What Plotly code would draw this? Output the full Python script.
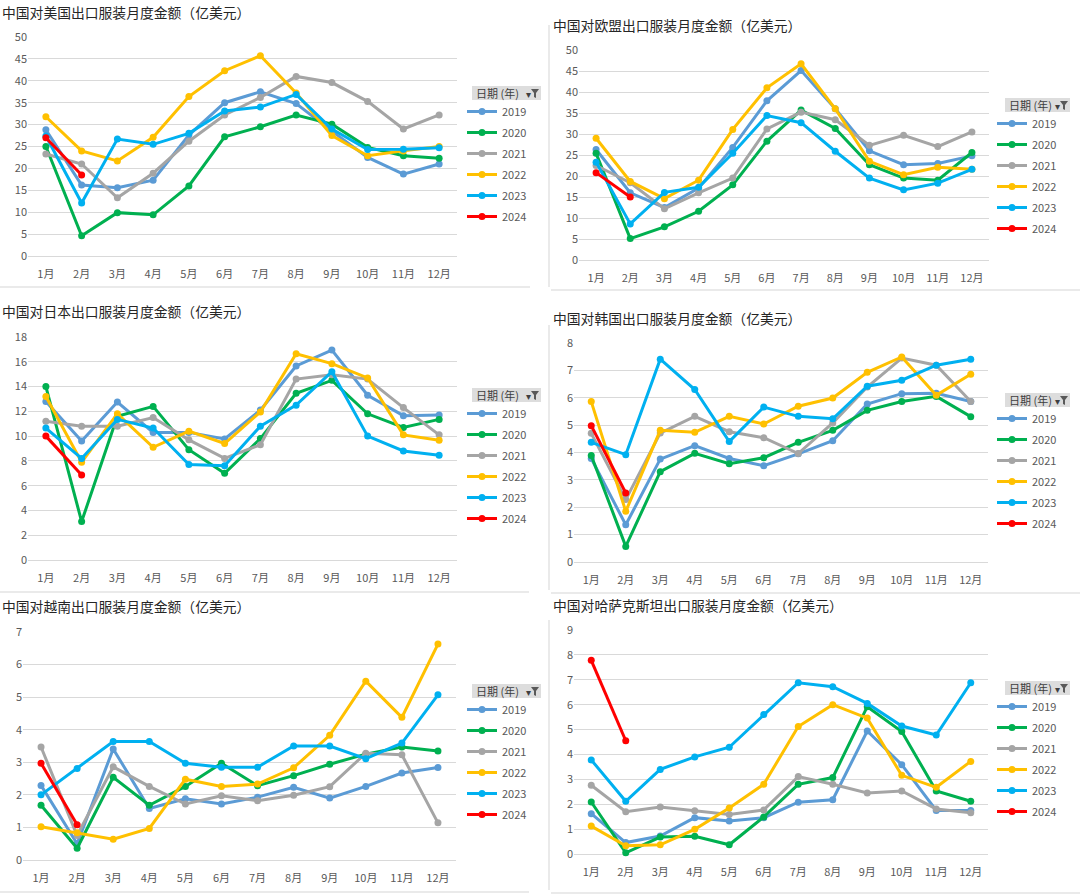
import plotly.graph_objects as go

MONTHS = ["1月", "2月", "3月", "4月", "5月", "6月", "7月", "8月", "9月", "10月", "11月", "12月"]
YEARS = ["2019", "2020", "2021", "2022", "2023", "2024"]
COLORS = ["#5B9BD5", "#00B050", "#A5A5A5", "#FFC000", "#00B0F0", "#FF0000"]

TITLES = [
    "中国对美国出口服装月度金额（亿美元）",
    "中国对欧盟出口服装月度金额（亿美元）",
    "中国对日本出口服装月度金额（亿美元）",
    "中国对韩国出口服装月度金额（亿美元）",
    "中国对越南出口服装月度金额（亿美元）",
    "中国对哈萨克斯坦出口服装月度金额（亿美元）",
]

US = {
    "2019": [28.8, 16.2, 15.6, 17.3, 27.6, 35.0, 37.5, 34.8, 28.5, 22.5, 18.7, 21.0],
    "2020": [25.0, 4.6, 9.9, 9.4, 16.0, 27.2, 29.5, 32.2, 30.1, 24.8, 22.9, 22.3],
    "2021": [23.3, 21.0, 13.3, 18.9, 26.2, 32.2, 36.2, 41.0, 39.6, 35.3, 29.0, 32.2],
    "2022": [31.8, 24.0, 21.7, 27.1, 36.4, 42.3, 45.7, 37.2, 27.5, 22.9, 24.0, 25.0],
    "2023": [27.4, 12.1, 26.7, 25.5, 28.0, 33.1, 34.0, 36.9, 29.0, 24.3, 24.4, 24.7],
    "2024": [27.0, 18.5],
}
EU = {
    "2019": [26.3, 16.0, 12.5, 17.1, 26.8, 37.9, 45.1, 36.0, 26.0, 22.7, 23.0, 24.8],
    "2020": [25.4, 5.1, 7.9, 11.6, 17.9, 28.3, 35.7, 31.3, 22.7, 19.5, 19.0, 25.6],
    "2021": [22.5, 18.4, 12.2, 16.0, 19.5, 31.2, 35.2, 33.4, 27.3, 29.7, 27.0, 30.5],
    "2022": [29.0, 18.7, 14.6, 19.0, 31.1, 41.0, 46.7, 36.0, 23.5, 20.3, 22.1, 21.6],
    "2023": [23.3, 8.6, 16.1, 17.3, 25.4, 34.4, 32.7, 25.9, 19.5, 16.7, 18.3, 21.6],
    "2024": [20.8, 15.0],
}
JP = {
    "2019": [12.8, 9.6, 12.75, 10.3, 10.3, 9.77, 12.1, 15.66, 16.95, 13.3, 11.65, 11.7],
    "2020": [14.0, 3.1, 11.6, 12.4, 8.9, 7.0, 9.8, 13.45, 14.5, 11.8, 10.7, 11.35],
    "2021": [11.2, 10.8, 10.8, 11.5, 9.7, 8.2, 9.3, 14.6, 14.95, 14.6, 12.3, 10.1],
    "2022": [13.2, 7.9, 11.8, 9.1, 10.4, 9.4, 11.95, 16.65, 15.85, 14.7, 10.1, 9.66],
    "2023": [10.65, 8.2, 11.35, 10.65, 7.7, 7.6, 10.8, 12.5, 15.2, 10.0, 8.8, 8.45],
    "2024": [10.0, 6.86],
}
KR = {
    "2019": [3.78, 1.36, 3.76, 4.25, 3.78, 3.52, 3.95, 4.43, 5.77, 6.15, 6.16, 5.86],
    "2020": [3.89, 0.57, 3.3, 3.97, 3.59, 3.81, 4.37, 4.81, 5.54, 5.86, 6.05, 5.31],
    "2021": [4.7, 2.28, 4.71, 5.32, 4.76, 4.54, 3.96, 5.08, 6.39, 7.45, 7.19, 5.86],
    "2022": [5.86, 1.85, 4.81, 4.74, 5.32, 5.04, 5.69, 5.99, 6.93, 7.49, 6.09, 6.86],
    "2023": [4.37, 3.92, 7.41, 6.3, 4.4, 5.66, 5.32, 5.23, 6.42, 6.64, 7.19, 7.41],
    "2024": [4.98, 2.52],
}
VN = {
    "2019": [2.29, 0.5, 3.41, 1.58, 1.88, 1.72, 1.93, 2.23, 1.9, 2.26, 2.67, 2.84],
    "2020": [1.68, 0.36, 2.54, 1.68, 2.26, 2.97, 2.28, 2.59, 2.94, 3.25, 3.47, 3.35],
    "2021": [3.47, 0.75, 2.86, 2.26, 1.72, 1.97, 1.82, 1.99, 2.25, 3.28, 3.23, 1.14],
    "2022": [1.02, 0.84, 0.64, 0.97, 2.48, 2.26, 2.33, 2.83, 3.83, 5.49, 4.38, 6.63],
    "2023": [2.0, 2.81, 3.64, 3.64, 2.97, 2.85, 2.85, 3.5, 3.5, 3.11, 3.59, 5.07],
    "2024": [2.97, 1.08],
}
KZ = {
    "2019": [1.62, 0.46, 0.72, 1.46, 1.33, 1.46, 2.08, 2.18, 4.94, 3.59, 1.75, 1.75],
    "2020": [2.09, 0.05, 0.68, 0.71, 0.37, 1.49, 2.8, 3.07, 5.92, 4.92, 2.53, 2.12],
    "2021": [2.76, 1.7, 1.89, 1.74, 1.59, 1.77, 3.11, 2.8, 2.45, 2.53, 1.81, 1.66],
    "2022": [1.12, 0.33, 0.37, 0.99, 1.85, 2.8, 5.12, 6.0, 5.46, 3.16, 2.68, 3.72],
    "2023": [3.78, 2.12, 3.4, 3.9, 4.29, 5.6, 6.88, 6.72, 6.05, 5.14, 4.78, 6.88],
    "2024": [7.78, 4.55],
}
DATASETS = [US, EU, JP, KR, VN, KZ]
Y_MAX = [50, 50, 18, 8, 7, 9]
Y_DTICK = [5, 5, 2, 1, 1, 1]

W, H = 1080, 894


def fx(p):
    return p / W


def fy(p):
    return 1 - p / H


# layout geometry in pixels: (x0, x1, ytop, ybottom)
PLOTS = [
    (28, 457, 37, 256),
    (579, 989, 50, 260),
    (28, 457, 337, 560),
    (574, 988, 343, 562),
    (23, 456, 632, 860),
    (574, 988, 630, 854),
]
TITLE_POS = [(0, 12), (551, 25), (0, 311), (551, 318), (0, 606), (551, 605)]
LEG_HEAD = [(472, 541, 86, 100), (1005, 1070, 98, 112), (472, 541, 388, 402),
            (1005, 1070, 393, 407), (472, 541, 684, 698), (1005, 1070, 681, 695)]
LEG_X = [462, 992, 462, 992, 462, 992]

FONT = "Noto Sans CJK SC"
fig = go.Figure()
layout = dict(
    width=W, height=H, margin=dict(l=0, r=0, t=0, b=0, autoexpand=False),
    paper_bgcolor="white", plot_bgcolor="white",
    font=dict(family=FONT, size=11, color="#595959"),
    showlegend=True,
)
annotations = []
shapes = []

for i, data in enumerate(DATASETS):
    n = i + 1
    sfx = "" if n == 1 else str(n)
    x0, x1, yt, yb = PLOTS[i]
    leg = "legend" + sfx
    for yr, col in zip(YEARS, COLORS):
        vals = data[yr]
        fig.add_trace(go.Scatter(
            x=MONTHS[:len(vals)], y=vals, name=yr, mode="lines+markers",
            line=dict(color=col, width=3), marker=dict(color=col, size=7),
            xaxis="x" + sfx, yaxis="y" + sfx, legend=leg,
            legendgroup=f"p{n}_{yr}", cliponaxis=False,
        ))
    layout["xaxis" + sfx] = dict(
        domain=[fx(x0), fx(x1)], anchor="y" + sfx, type="category",
        categoryorder="array", categoryarray=MONTHS, range=[-0.5, 11.5],
        showgrid=False, showline=False, zeroline=False, ticks="",
        tickfont=dict(size=11, color="#595959"), ticklabelstandoff=10,
    )
    layout["yaxis" + sfx] = dict(
        domain=[fy(yb), fy(yt)], anchor="x" + sfx, range=[0, Y_MAX[i]],
        dtick=Y_DTICK[i], showgrid=True, gridcolor="#D9D9D9", gridwidth=1,
        zeroline=True, zerolinecolor="#D9D9D9", zerolinewidth=1,
        showline=False, ticks="", tickfont=dict(size=11, color="#595959"),
    )
    hx0, hx1, hy0, hy1 = LEG_HEAD[i]
    layout[leg] = dict(
        x=fx(LEG_X[i]), y=fy(hy1 - 3), xanchor="left", yanchor="top",
        bgcolor="rgba(0,0,0,0)", borderwidth=0, tracegroupgap=2,
        font=dict(size=11, color="#595959", family=FONT), itemwidth=30,
    )
    tx, ty = TITLE_POS[i]
    annotations.append(dict(
        text=TITLES[i], x=fx(tx), y=fy(ty), xref="paper", yref="paper",
        xanchor="left", yanchor="middle", showarrow=False,
        font=dict(size=13.8, color="#262626", family=FONT),
    ))
    # legend header
    shapes.append(dict(type="rect", xref="paper", yref="paper",
                       x0=fx(hx0), x1=fx(hx1), y0=fy(hy1), y1=fy(hy0),
                       fillcolor="#DDDDDD", line=dict(width=0), layer="below"))
    annotations.append(dict(
        text="日期 (年)", x=fx(hx0 + 2), y=fy((hy0 + hy1) / 2), xref="paper", yref="paper",
        xanchor="left", yanchor="middle", showarrow=False,
        font=dict(size=11, color="#404040", family=FONT),
    ))
    annotations.append(dict(
        text="▾", x=fx(hx1 - 13), y=fy((hy0 + hy1) / 2 + 1), xref="paper", yref="paper",
        xanchor="center", yanchor="middle", showarrow=False,
        font=dict(size=10, color="#404040", family="DejaVu Sans"),
    ))
    fcx = hx1 - 6
    fy0 = hy0 + 3
    path = (f"M {fx(fcx-4)},{fy(fy0)} L {fx(fcx+4)},{fy(fy0)} L {fx(fcx+1)},{fy(fy0+4)} "
            f"L {fx(fcx+1)},{fy(fy0+9)} L {fx(fcx-1)},{fy(fy0+8)} L {fx(fcx-1)},{fy(fy0+4)} Z")
    shapes.append(dict(type="path", xref="paper", yref="paper", path=path,
                       fillcolor="#595959", line=dict(width=0)))

# faint panel borders
BORDER = "#E3E3E3"
for (ax0, ay0, ax1, ay1) in [
    (0, 287, 530, 287),
    (549, 25, 549, 287), (551, 290, 1080, 290),
    (549, 325, 549, 590), (551, 593, 1080, 593),
    (0, 592, 529, 592), (0, 892, 529, 892),
    (549, 620, 549, 890), (551, 893, 1080, 893),
]:
    shapes.append(dict(type="line", xref="paper", yref="paper",
                       x0=fx(ax0), x1=fx(ax1), y0=fy(ay0), y1=fy(ay1),
                       line=dict(color=BORDER, width=1.5)))

layout["annotations"] = annotations
layout["shapes"] = shapes
fig.update_layout(**layout)
fig.write_html(
    "out.html",
    config={"displayModeBar": False},
    post_script="document.body.style.margin='0';document.body.style.overflow='hidden';",
)
